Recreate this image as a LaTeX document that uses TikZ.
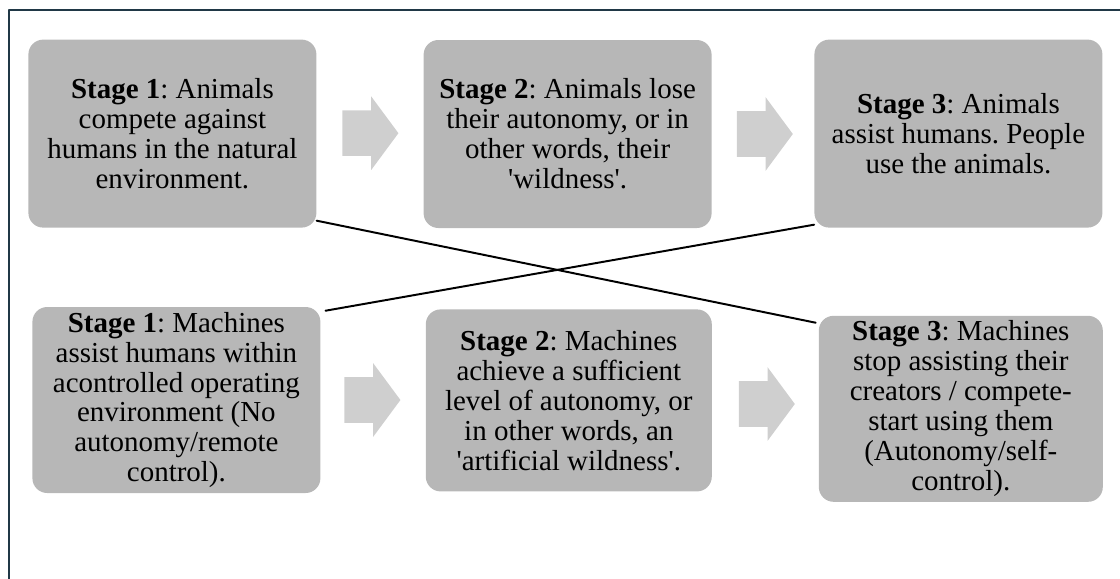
\documentclass[tikz,border=0pt]{standalone}
\usepackage{fontspec}
\setmainfont{Liberation Serif}[Ligatures=TeXOff]
\usetikzlibrary{shapes.arrows}
\definecolor{boxgray}{RGB}{183,183,183}
\definecolor{arrowgray}{RGB}{207,207,207}
\definecolor{framecol}{RGB}{32,56,70}
\tikzset{
	stagebox/.style={fill=boxgray,rounded corners=0.37cm,align=center,inner sep=0pt,
		minimum width=7.2cm,minimum height=4.7cm,font=\fontsize{20.6}{21.3}\selectfont},
	stepper/.style={single arrow,fill=arrowgray,inner xsep=0pt,inner ysep=0.5625cm,text height=0pt,text depth=0pt,
		minimum height=1.4cm,single arrow head extend=0.35cm,single arrow tip angle=107},
	xline/.style={line width=1.4pt,black}
}
\begin{document}
\frenchspacing
\begin{tikzpicture}[line join=round,line cap=round]
		\useasboundingbox (0,0) rectangle (28,-14.45);
		\draw[framecol,line width=1.5pt] (0.225,-15) |- (28.5,-0.25);
		\node[stagebox] (a1) at (4.31,-3.34) {\textbf{Stage 1}: Animals\\compete against\\humans in the natural\\environment.};
		\node[stagebox] (a2) at (14.19,-3.35) {\textbf{Stage 2}: Animals lose\\their autonomy, or in\\other words, their\\'wildness'.};
		\node[stagebox] (a3) at (23.96,-3.34) {\textbf{Stage 3}: Animals\\assist humans. People\\use the animals.};
		\node[stagebox,minimum height=4.65cm] (m1) at (4.41,-10) {\textbf{Stage 1}: Machines\\assist humans within\\acontrolled operating\\environment (No\\autonomy/remote\\control).};
		\node[stagebox,minimum height=4.55cm,minimum width=7.15cm] (m2) at (14.22,-10.01) {\textbf{Stage 2}: Machines\\achieve a sufficient\\level of autonomy, or\\in other words, an\\'artificial wildness'.};
		\node[stagebox,minimum height=4.65cm,minimum width=7.1cm] (m3) at (24.02,-10.22) {\textbf{Stage 3}: Machines\\stop assisting their\\creators / compete-\\start using them\\(Autonomy/self-\\control).};
		\node[stepper] (s1) at (9.05,-3.33) {};
		\node[stepper] (s2) at (18.91,-3.35) {};
		\node[stepper] (s3) at (9.1,-10) {};
		\node[stepper] (s4) at (18.96,-10.1) {};
		\draw[xline] ([yshift=.18cm]a1.south east) -- ([xshift=-.07cm,yshift=-.18cm]m3.north west);
		\draw[xline] ([xshift=.12cm,yshift=-.1cm]m1.north east) -- ([yshift=.08cm]a3.south west);
\end{tikzpicture}
\end{document}
